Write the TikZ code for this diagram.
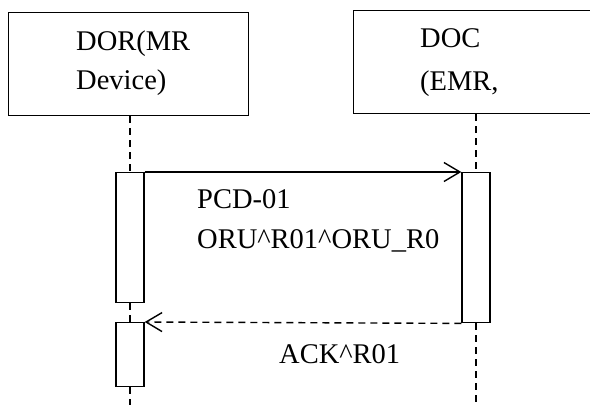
\documentclass[tikz,border=0pt]{standalone}
\usepackage{fontspec}
\setmainfont{Liberation Serif}
\usetikzlibrary{arrows.meta}
\begin{document}
\begin{tikzpicture}[x=1pt,y=-1pt,
  box/.style={draw, line width=1.4pt, rectangle, inner sep=0pt, anchor=north west},
  act/.style={draw, line width=1.4pt, fill=white, minimum width=28pt, anchor=north, inner sep=0pt},
  life/.style={line width=1.4pt, dash pattern=on 7pt off 5pt},
  msg/.style={line width=1.4pt, -{Straight Barb[length=16pt,width=19pt,line width=1.4pt]}},
  txt/.style={anchor=base west, inner sep=0pt, font=\fontsize{28.5}{34}\selectfont}]
\path[use as bounding box, clip] (0,0) rectangle (590,405);
\node[box, minimum width=240pt, minimum height=103pt] (dor) at (8,12) {};
\node[box, minimum width=240pt, minimum height=103pt] (doc) at (353,10) {};
\node[txt] (dort1) at (76,50) {DOR(MR};
\node[txt] (dort2) at (76,89) {Device)};
\node[txt] (doct1) at (420,47) {DOC};
\node[txt] (doct2) at (420,90) {(EMR,};
\node[act, minimum height=130pt] (a1) at (130,172) {};
\node[act, minimum height=64pt] (a2) at (130,322) {};
\node[act, minimum height=150pt] (b1) at (476,172) {};
\coordinate (lbot) at (130,405);
\coordinate (rbot) at (476,405);
\draw[life] (a1.north |- dor.south) -- (a1.north);
\draw[life] (a1.south) -- (a2.north);
\draw[life] (a2.south) -- (lbot);
\draw[life] (b1.north |- doc.south) -- (b1.north);
\draw[life] (b1.south) -- (rbot);
\draw[msg] (a1.north east) -- (b1.north west);
\draw[msg, dash pattern=on 7pt off 5pt] (b1.south west) -- (a2.north east);
\node[txt] (m1a) at (197,208) {PCD-01};
\node[txt] (m1b) at (197,248) {ORU\textasciicircum R01\textasciicircum ORU\_R0};
\node[txt] (m2) at (279,363) {ACK\textasciicircum R01};
\end{tikzpicture}
\end{document}
